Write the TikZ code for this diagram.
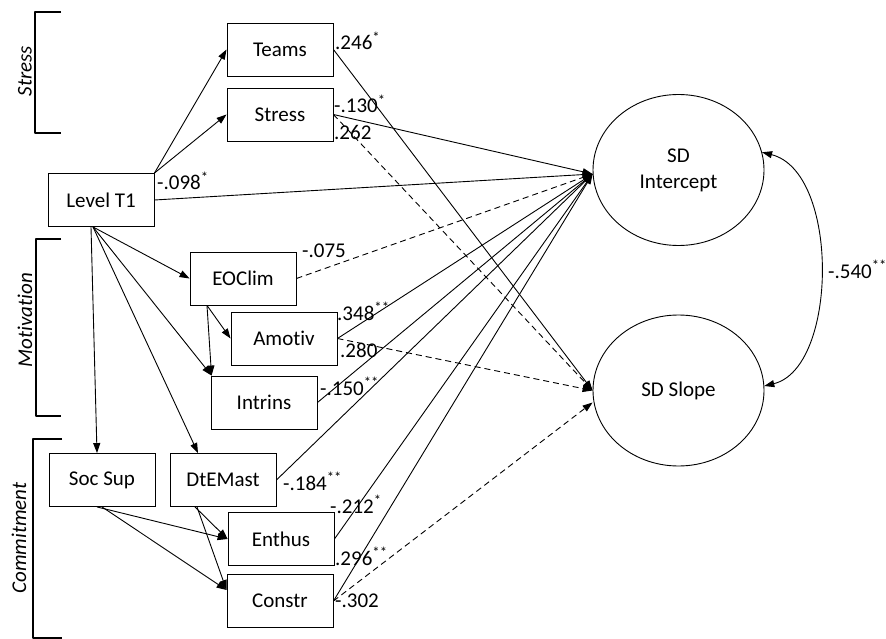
\documentclass[tikz,border=0pt]{standalone}
\usepackage{fontspec}
\setmainfont{Carlito}[Ligatures=NoCommon]
\usetikzlibrary{arrows.meta,shapes.geometric}
\begin{document}
\begin{tikzpicture}[x=1pt,y=-1pt,
  every node/.style={font=\fontsize{21}{26}\selectfont},
  var/.style={draw,line width=0.9pt,minimum width=106pt,minimum height=53pt,inner sep=0pt},
  latent/.style={draw,ellipse,line width=0.9pt,minimum width=171pt,minimum height=151pt,inner sep=0pt,align=center},
  eff/.style={line width=0.9pt,-{Triangle[length=10pt,width=7pt]}},
  nseff/.style={eff,dash pattern=on 6pt off 4pt},
  coef/.style={anchor=base west,inner sep=0pt},
  bracket/.style={line width=2.8pt,line join=round},
  grouplabel/.style={rotate=90,inner sep=0pt,font=\itshape\fontsize{21}{26}\selectfont}
]
\useasboundingbox (0,0) rectangle (886,639);

% observed variables
\node[var] (Teams)  at (280,49.5)  {Teams};
\node[var] (Stress) at (280,114.5) {Stress};
\node[var] (L)      at (101,200)   {Level T1};
\node[var] (EOC)    at (243,278.5) {EOClim};
\node[var] (Amo)    at (284,338.5) {Amotiv};
\node[var] (Intr)   at (264,402.5) {Intrins};
\node[var] (Soc)    at (102,480)   {Soc Sup};
\node[var] (DtE)    at (223,480)   {DtEMast};
\node[var] (Enth)   at (281,539)   {Enthus};
\node[var] (Constr) at (280,601)   {Constr};

% latent growth factors
\node[latent] (I) at (678.5,170)   {SD\\Intercept};
\node[latent] (S) at (678.5,390.5) {SD Slope};

% group brackets
\draw[bracket] (61,12) -- (35,12) -- (35,133) -- (61,133);
\draw[bracket] (61,239) -- (36,239) -- (36,416) -- (61,416);
\draw[bracket] (62,439) -- (33,439) -- (33,638) -- (62,638);
\node[grouplabel] (gStress) at (25,71)  {Stress};
\node[grouplabel] (gMot)    at (25,320) {Motivation};
\node[grouplabel] (gCom)    at (19,538) {Commitment};

% paths from Level T1
\draw[eff] (L.north east) -- (Teams.west);
\draw[eff] (L.north east) -- (Stress.west);
\draw[eff] (L.east) -- ([yshift=-4pt]I.west);
\draw[eff] ([xshift=-10pt]L.south) -- ([xshift=-5pt]Soc.north);
\draw[eff] ([xshift=-8pt]L.south) -- ([xshift=-25pt]DtE.north);
\draw[eff] ([xshift=-8pt]L.south) -- ([xshift=1pt]Intr.north west);
\draw[eff] ([xshift=-8pt]L.south) -- (EOC.west);

% motivation paths
\draw[eff] ([xshift=-36pt]EOC.south) -- (Amo.west);
\draw[eff] ([xshift=-36pt]EOC.south) -- ([xshift=1pt]Intr.north west);

% commitment paths
\draw[eff] ([xshift=-5pt]Soc.south) -- (Enth.west);
\draw[eff] (Soc.south) -- ([yshift=11pt]Constr.west);
\draw[eff] ([xshift=-28pt]DtE.south) -- (Enth.west);
\draw[eff] ([xshift=-26pt]DtE.south) -- ([yshift=11pt]Constr.west);

% paths to the intercept
\draw[eff]   (Stress.east) -- ([yshift=-4pt]I.west);
\draw[nseff] (EOC.east)    -- ([yshift=-4pt]I.west);
\draw[eff]   (Amo.east)    -- ([yshift=-4pt]I.west);
\draw[eff]   (Intr.east)   -- ([yshift=-4pt]I.west);
\draw[eff]   (DtE.east)    -- ([yshift=-4pt]I.west);
\draw[eff]   (Enth.east)   -- ([yshift=-4pt]I.west);
\draw[eff]   (Constr.east) -- ([yshift=-4pt]I.west);

% paths to the slope
\draw[eff]   (Teams.east)  -- (S.west);
\draw[nseff] (Stress.east) -- (S.west);
\draw[nseff] (Amo.east)    -- (S.west);
\draw[nseff] (Constr.east) -- ([yshift=-12pt]S.west);

% factor covariance
\draw[line width=0.9pt,{Triangle[length=10pt,width=7pt]}-{Triangle[length=10pt,width=7pt]}]
  (I.12) .. controls (840,172) and (838,368) .. (S.3);

% coefficients
\node[coef] (c1)  at (335,50)  {.246\textsuperscript{*}};
\node[coef] (c2)  at (334,113) {-.130\textsuperscript{*}};
\node[coef] (c3)  at (334,140) {.262};
\node[coef] (c4)  at (157,190) {-.098\textsuperscript{*}};
\node[coef] (c5)  at (302,258) {-.075};
\node[coef] (c6)  at (337,320) {.348\textsuperscript{**}};
\node[coef] (c7)  at (340,357) {.280};
\node[coef] (c8)  at (320,395) {-.150\textsuperscript{**}};
\node[coef] (c9)  at (283,490) {-.184\textsuperscript{**}};
\node[coef] (c10) at (330,513) {-.212\textsuperscript{*}};
\node[coef] (c11) at (335,565) {.296\textsuperscript{**}};
\node[coef] (c12) at (335,607) {-.302};
\node[coef] (c13) at (828,278) {-.540\textsuperscript{**}};
\end{tikzpicture}
\end{document}
